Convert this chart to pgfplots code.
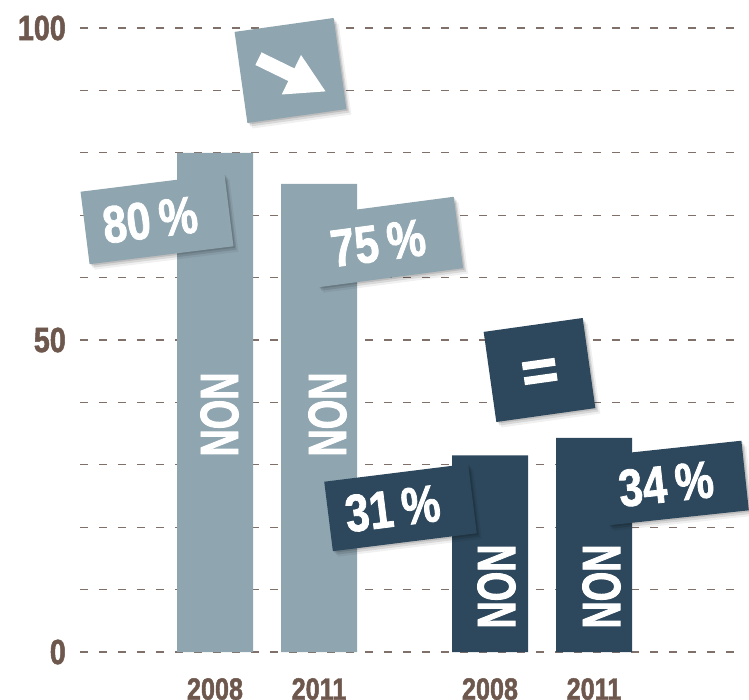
\documentclass[border=0pt]{standalone}
\usepackage{pgfplots}
\pgfplotsset{compat=1.18}
\usepackage{fontspec}
\setmainfont{Liberation Sans}
\font\fyt="Liberation Sans/B:extend=0.82;embolden=1.5" at 35pt
\font\fxt="Liberation Sans/B:extend=0.82;embolden=1.5" at 30.7pt
\font\fpc="Liberation Sans/B:extend=0.82;embolden=1.5" at 52.6pt
\font\fnon="Liberation Sans/B:extend=0.70;embolden=1.5" at 54pt
\usetikzlibrary{shadows}
\definecolor{lightbar}{HTML}{8FA5B0}
\definecolor{darkbar}{HTML}{2D485C}
\definecolor{txtbrown}{HTML}{6E584E}
\definecolor{gridbrown}{HTML}{80706A}
\tikzset{
  pbox/.style={inner sep=0pt, draw=none, text=white,
    font=\fpc,
    drop shadow={shadow xshift=1.5pt, shadow yshift=-1.5pt, fill=black, opacity=0.12},
    drop shadow={shadow xshift=3pt, shadow yshift=-3.5pt, fill=black, opacity=0.10},
    drop shadow={shadow xshift=5pt, shadow yshift=-5.5pt, fill=black, opacity=0.06}},
  nonlab/.style={inner sep=0pt, rotate=90, text=white, font=\fnon}
}
\begin{document}
\begin{tikzpicture}
\begin{axis}[
  scale only axis, width=660pt, height=624pt,
  xmin=80, xmax=740, ymin=0, ymax=100,
  axis line style={draw=none},
  major tick length=0pt, minor tick length=0pt,
  xtick={215,319,490,594}, xticklabels={2008,2011,2008,2011},
  ytick={0,50,100}, yticklabels={0,50,100},
  minor ytick={10,20,30,40,60,70,80,90},
  ymajorgrids=true, yminorgrids=true,
  major grid style={gridbrown, line width=1.3pt, dash pattern=on 8pt off 11pt},
  minor grid style={gridbrown, line width=1.3pt, dash pattern=on 8pt off 11pt},
  xticklabel style={font=\fxt, text=txtbrown, anchor=north, inner sep=0pt, yshift=-26pt},
  yticklabel style={font=\fyt, text=txtbrown, anchor=east, inner sep=0pt, xshift=-14pt},
  ybar, bar width=76,
  clip=false,
]
\addplot[fill=lightbar, draw=none, bar shift=0] coordinates {(215,80) (319,75)};
\addplot[fill=darkbar, draw=none, bar shift=0] coordinates {(490,31.5) (594,34.3)};
\coordinate (O) at (axis cs:0,104.487);
\coordinate (BR) at (axis cs:749,-7.532);
\end{axis}
\pgfresetboundingbox
\path[use as bounding box] (O) rectangle (BR);
\begin{scope}[shift={(O)}, x=1pt, y=-1pt]
  % NON labels
  \node[nonlab] at (219.5,414.5) {NON};
  \node[nonlab] at (327.5,414.5) {NON};
  \node[nonlab] at (496.5,586.5) {NON};
  \node[nonlab] at (601.5,586.5) {NON};
  % percent boxes
  \node[pbox, fill=lightbar, rotate=7.1, minimum width=145pt, minimum height=73pt] at (157,219) {80\,\%\hspace*{14pt}};
  \node[pbox, fill=lightbar, rotate=7.5, minimum width=146pt, minimum height=72pt] at (386,242) {75\,\%\hspace*{16pt}};
  \node[pbox, fill=darkbar, rotate=7.1, minimum width=145pt, minimum height=70pt] at (400.5,507.5) {31\,\%\hspace*{16pt}};
  \node[pbox, fill=darkbar, rotate=6.1, minimum width=141pt, minimum height=70pt] at (675,483) {34\,\%\hspace*{18pt}};
  % arrow box
  \node[pbox, fill=lightbar, rotate=8, minimum width=100pt, minimum height=92pt] at (290.5,70.5) {};
  \begin{scope}[shift={(290.5,70.5)}, rotate=8]
    \begin{scope}[shift={(0.85,4.7)}, rotate=-34]
      \fill[white] (-37.3,-7) -- (-0.7,-7) -- (-0.7,-22) -- (37.3,0) -- (-0.7,22) -- (-0.7,7) -- (-37.3,7) -- cycle;
    \end{scope}
  \end{scope}
  % equals box
  \node[pbox, fill=darkbar, rotate=8, minimum width=100pt, minimum height=91pt] at (539.5,370) {};
  \begin{scope}[shift={(539.5,370)}, rotate=8]
    \fill[white] (-16.5,-10) rectangle (16.5,-2);
    \fill[white] (-16.5,5) rectangle (16.5,13);
  \end{scope}
\end{scope}
\end{tikzpicture}
\end{document}
